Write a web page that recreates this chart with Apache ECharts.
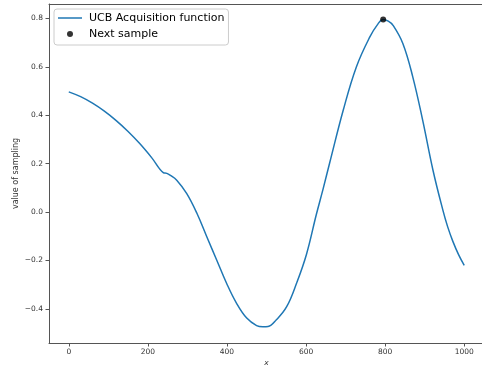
<!DOCTYPE html>
<html>
<head>
<meta charset="utf-8">
<script src="https://cdn.jsdelivr.net/npm/echarts@6/dist/echarts.min.js"></script>
<style>
  html, body { margin: 0; padding: 0; background: #fff; }
  #chart { width: 482px; height: 370px; }
</style>
</head>
<body>
<div id="chart"></div>
<script>
// UCB acquisition function sampled over x
const xs = [0, 30, 60, 90, 120, 150, 180, 210, 239, 248, 256, 273, 298, 324, 349, 374, 399, 424, 450, 475, 491, 504, 525, 551, 576, 601, 626, 643, 660, 694, 727, 761, 782, 795, 808, 820, 845, 870, 895, 921, 946, 958, 971, 986, 1000];
const ys = [0.497, 0.477, 0.450, 0.417, 0.378, 0.333, 0.282, 0.224, 0.163, 0.160, 0.153, 0.132, 0.077, -0.005, -0.102, -0.198, -0.294, -0.376, -0.438, -0.469, -0.474, -0.473, -0.445, -0.391, -0.294, -0.175, -0.010, 0.095, 0.205, 0.421, 0.599, 0.723, 0.778, 0.796, 0.789, 0.772, 0.696, 0.558, 0.379, 0.173, 0.008, -0.060, -0.120, -0.177, -0.220];

// Point chosen as the next sample (maximum of the acquisition function)
const nextX = [795];
const nextY = [0.796];

// Tick values
const xTicks = [0, 200, 400, 600, 800, 1000];
const yTicks = [-0.4, -0.2, 0.0, 0.2, 0.4, 0.6, 0.8];

const curve = xs.map((x, i) => [x, ys[i]]);
const nextPts = nextX.map((x, i) => [x, nextY[i]]);

const FONT = 'DejaVu Sans';
const minus = s => s.replace('-', '\u2212');
const SPINE = '#555';
const BLUE = '#1f77b4';

const chart = echarts.init(document.getElementById('chart'), null, { renderer: 'canvas' });
chart.setOption({
  animation: false,
  backgroundColor: '#ffffff',
  grid: {
    left: 49, top: 4, width: 435, height: 339,
    outerBoundsMode: 'none',
    containLabel: false,
    show: false
  },
  legend: {
    left: 54, top: 9,
    orient: 'vertical',
    itemWidth: 24, itemHeight: 12, itemGap: 4,
    padding: [3, 4, 5, 4],
    backgroundColor: 'rgba(255,255,255,0.8)',
    borderColor: '#cccccc', borderWidth: 1, borderRadius: 3,
    textStyle: { fontFamily: FONT, fontSize: 11, color: '#000', lineHeight: 12, padding: [0, 0, 0, 2] },
    data: [
      { name: 'UCB Acquisition function', icon: 'path://M0,0M24,12M0,5.25h24v1.5h-24z', itemStyle: { color: BLUE } },
      { name: 'Next sample', icon: 'path://M0,0M24,12M9,6a3,3 0 1,0 6,0a3,3 0 1,0 -6,0z' }
    ]
  },
  xAxis: [
    {
      type: 'value', min: -50, max: 1050, position: 'bottom',
      name: 'x', nameLocation: 'middle', nameGap: 16, nameMoveOverlap: false,
      nameTextStyle: { fontFamily: FONT, fontSize: 7.5, fontStyle: 'italic', color: '#333' },
      splitLine: { show: false },
      axisLine: { show: true, onZero: false, lineStyle: { color: SPINE, width: 1 } },
      axisTick: { show: true, inside: false, length: 3.5, lineStyle: { color: SPINE }, customValues: xTicks },
      axisLabel: {
        fontFamily: FONT, fontSize: 7.5, color: '#333', margin: 5,
        customValues: xTicks, formatter: v => minus(String(v))
      }
    },
    {
      // top spine only
      type: 'value', min: -50, max: 1050, position: 'top',
      splitLine: { show: false },
      axisLine: { show: true, onZero: false, lineStyle: { color: SPINE, width: 1 } },
      axisTick: { show: false },
      axisLabel: { show: false }
    }
  ],
  yAxis: {
    type: 'value', min: -0.541, max: 0.86,
    name: 'value of sampling', nameLocation: 'middle', nameGap: 29, nameRotate: 90,
    nameMoveOverlap: false,
    nameTextStyle: { fontFamily: FONT, fontSize: 8, color: '#333' },
    splitLine: { show: false },
    axisLine: { show: true, onZero: false, lineStyle: { color: SPINE, width: 1 } },
    axisTick: { show: true, inside: false, length: 3.5, lineStyle: { color: SPINE }, customValues: yTicks },
    axisLabel: {
      fontFamily: FONT, fontSize: 7.5, color: '#333', margin: 6,
      customValues: yTicks, formatter: v => minus(v.toFixed(1))
    }
  },
  series: [
    {
      name: 'UCB Acquisition function',
      type: 'line',
      data: curve,
      symbol: 'none',
      smooth: 0.4,
      lineStyle: { color: BLUE, width: 1.5 },
      itemStyle: { color: BLUE },
      z: 2
    },
    {
      name: 'Next sample',
      type: 'scatter',
      data: nextPts,
      symbol: 'circle',
      symbolSize: 6,
      itemStyle: { color: '#000000' },
      z: 3
    }
  ]
});
</script>
</body>
</html>
